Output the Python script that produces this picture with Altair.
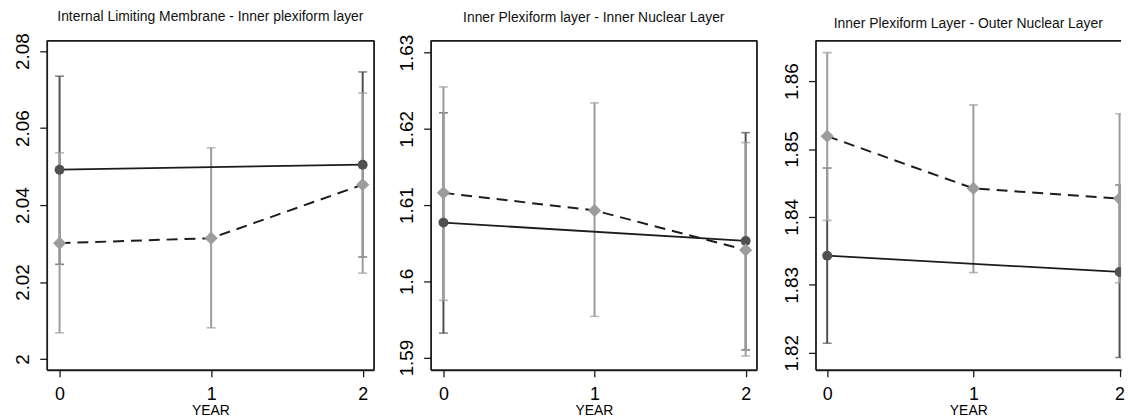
import altair as alt
import pandas as pd

years = [0, 1, 2]

titles = [
    "Internal Limiting Membrane - Inner plexiform layer",
    "Inner Plexiform layer - Inner Nuclear Layer",
    "Inner Plexiform Layer - Outer Nuclear Layer",
]

# dark series (solid line, circles)
p1_dark_mean = [2.0492, None, 2.0505]
p1_dark_lo = [2.0246, None, 2.0265]
p1_dark_hi = [2.0735, None, 2.0746]
# gray series (dashed line, diamonds)
p1_gray_mean = [2.0301, 2.0314, 2.0453]
p1_gray_lo = [2.0068, 2.0081, 2.0223]
p1_gray_hi = [2.0536, 2.0549, 2.0691]

p2_dark_mean = [1.6077, None, 1.6053]
p2_dark_lo = [1.5932, None, 1.5910]
p2_dark_hi = [1.6221, None, 1.6195]
p2_gray_mean = [1.6116, 1.6093, 1.6041]
p2_gray_lo = [1.5975, 1.5954, 1.5902]
p2_gray_hi = [1.6255, 1.6234, 1.6182]

p3_dark_mean = [1.8343, None, 1.8319]
p3_dark_lo = [1.8214, None, 1.8193]
p3_dark_hi = [1.8472, None, 1.8447]
p3_gray_mean = [1.8519, 1.8442, 1.8427]
p3_gray_lo = [1.8395, 1.8318, 1.8303]
p3_gray_hi = [1.8642, 1.8565, 1.8552]

y_domains = [[1.9972, 2.0828], [1.5884, 1.6316], [1.8175, 1.866]]
y_ticks = [
    [2.0, 2.02, 2.04, 2.06, 2.08],
    [1.59, 1.6, 1.61, 1.62, 1.63],
    [1.82, 1.83, 1.84, 1.85, 1.86],
]
x_domains = [[-0.085, 2.075], [-0.085, 2.075], [-0.08, 2.01]]
widths = [330, 329, 308]
extents = [30, 30, 35]
HEIGHT = 332

panels = [
    (p1_dark_mean, p1_dark_lo, p1_dark_hi, p1_gray_mean, p1_gray_lo, p1_gray_hi),
    (p2_dark_mean, p2_dark_lo, p2_dark_hi, p2_gray_mean, p2_gray_lo, p2_gray_hi),
    (p3_dark_mean, p3_dark_lo, p3_dark_hi, p3_gray_mean, p3_gray_lo, p3_gray_hi),
]

DARK = "#505050"
GRAY = "#9c9c9c"
LINE = "#1c1c1c"
FRAME = "#1a1a1a"
FONT = "Liberation Sans"


def make_panel(i):
    dm, dl, dh, gm, gl, gh = panels[i]
    rows = []
    for k, yr in enumerate(years):
        if dm[k] is not None:
            rows.append({"year": yr, "grp": "dark", "mean": dm[k], "lo": dl[k], "hi": dh[k]})
        if gm[k] is not None:
            rows.append({"year": yr, "grp": "gray", "mean": gm[k], "lo": gl[k], "hi": gh[k]})
    df = pd.DataFrame(rows)

    clip = i == 2
    xs = alt.Scale(domain=x_domains[i], nice=False, zero=False)
    ys = alt.Scale(domain=y_domains[i], nice=False, zero=False)
    x = alt.X("year:Q", scale=xs, title="YEAR",
              axis=alt.Axis(tickCount=3, format="d", labelFontSize=18,
                            titleFontSize=14, titlePadding=0, tickSize=7, tickWidth=1.3,
                            domainWidth=1.8, labelPadding=9, grid=False,
                            labelOverlap=False, labelFlush=False,
                            domainColor=FRAME, tickColor=FRAME, labelColor="#000",
                            titleColor="#000", titleFontWeight="normal", labelFont=FONT,
                            titleFont=FONT))
    y = alt.Y("mean:Q", scale=ys, title=None,
              axis=alt.Axis(values=y_ticks[i], format="~g", labelFontSize=19, labelAngle=-90,
                            labelAlign="center", labelBaseline="bottom",
                            tickSize=7, tickWidth=1.3, domainWidth=1.8, labelPadding=7,
                            grid=False, labelOverlap=False, labelFlush=False,
                            minExtent=extents[i], maxExtent=extents[i],
                            domainColor=FRAME, tickColor=FRAME, labelColor="#000",
                            labelFont=FONT))

    base = alt.Chart(df)
    dark = base.transform_filter(alt.datum.grp == "dark")
    gray = base.transform_filter(alt.datum.grp == "gray")

    def bars(src, color):
        r = src.mark_rule(color=color, strokeWidth=2, clip=clip).encode(
            x=x, y=alt.Y("lo:Q", scale=ys), y2="hi:Q")
        t1 = src.mark_tick(color=color, thickness=1.6, size=9, orient="horizontal",
                           clip=clip).encode(x=x, y=alt.Y("lo:Q", scale=ys))
        t2 = src.mark_tick(color=color, thickness=1.6, size=9, orient="horizontal",
                           clip=clip).encode(x=x, y=alt.Y("hi:Q", scale=ys))
        return r + t1 + t2

    dark_line = dark.mark_line(color=LINE, strokeWidth=1.8, clip=clip).encode(x=x, y=y)
    gray_line = gray.mark_line(color=LINE, strokeWidth=2, strokeDash=[11, 7],
                               clip=clip).encode(x=x, y=y)
    dark_pts = dark.mark_point(shape="circle", filled=True, size=100, color=DARK,
                               opacity=1, clip=clip).encode(x=x, y=y)
    gray_pts = gray.mark_point(shape="diamond", filled=True, size=175, color=GRAY,
                               opacity=1, clip=clip).encode(x=x, y=y)

    # frame: top border (and right border where the reference shows one)
    frame_src = alt.Chart(pd.DataFrame({"k": [0]}))
    top = frame_src.mark_rule(color=FRAME, strokeWidth=1.8).encode(
        x=alt.value(0), x2=alt.value(widths[i]), y=alt.value(0.5))
    layers = [bars(dark, DARK), bars(gray, GRAY), dark_line, gray_line, dark_pts, gray_pts, top]
    if i != 2:
        right = frame_src.mark_rule(color=FRAME, strokeWidth=1.8).encode(
            x=alt.value(widths[i]), y=alt.value(0), y2=alt.value(HEIGHT))
        layers.append(right)

    layer = alt.layer(*layers).properties(
        width=widths[i], height=HEIGHT,
        view=alt.ViewBackground(strokeOpacity=0, fill="white"),
        title=alt.TitleParams(titles[i], fontSize=14, fontWeight="normal", font=FONT,
                              color="#111", anchor="middle", offset=9),
    )
    return layer


chart = alt.hconcat(
    make_panel(0), make_panel(1), make_panel(2), spacing=23
).properties(
    padding={"left": 5, "top": 0, "right": 0, "bottom": 0},
    background="white",
)

chart.save("out.html", embed_options={"renderer": "svg", "actions": False})
